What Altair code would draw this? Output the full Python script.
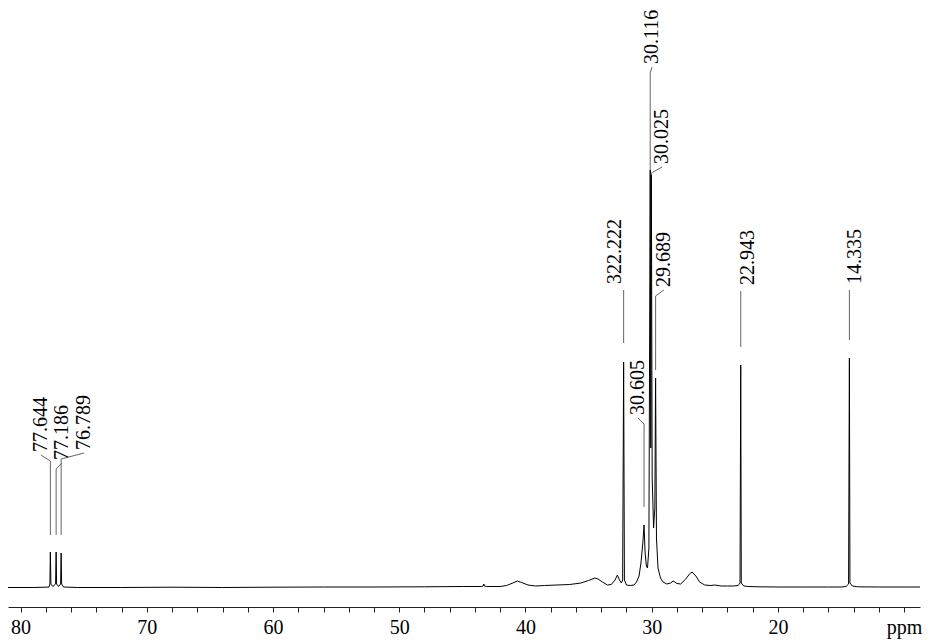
import altair as alt
import pandas as pd

# ---- spectrum trace (ppm, intensity in arbitrary units) ----
spec_ppm = [81.0, 79.0, 78.0, 77.75, 77.68, 77.644, 77.60, 77.45, 77.23, 77.186, 77.15, 77.0,
            76.83, 76.789, 76.75, 76.6, 75.5, 72.0, 68.0, 64.0, 60.0, 56.0, 52.0, 48.0, 45.0,
            43.5, 43.35, 43.3, 43.25, 43.1, 42.0, 41.5, 41.0, 40.65, 40.3, 39.8, 39.2, 38.5,
            37.5, 36.5, 35.6, 35.0, 34.5, 34.25, 33.9, 33.5, 33.2, 32.9, 32.72, 32.55, 32.4,
            32.3, 32.222, 32.16, 32.0, 31.7, 31.4, 31.2, 31.0, 30.85, 30.7, 30.605, 30.52,
            30.42, 30.33, 30.22, 30.116, 30.07, 30.025, 29.96, 29.85, 29.75, 29.689, 29.62,
            29.5, 29.3, 29.1, 28.8, 28.5, 28.3, 28.0, 27.7, 27.3, 27.0, 26.8, 26.5, 26.2,
            25.8, 25.3, 25.0, 24.5, 24.0, 23.5, 23.15, 23.0, 22.943, 22.9, 22.7, 22.3, 21.5,
            20.0, 18.0, 16.0, 15.0, 14.6, 14.4, 14.335, 14.29, 14.1, 13.7, 12.0, 10.0, 8.74]
spec_int = [0.5, 0.5, 0.8, 1, 4, 36, 4, 1.5, 4, 36, 4, 1.5,
            4, 35, 4, 1, 0.5, 0.5, 0.8, 0.5, 0.8, 1, 1, 1.2, 1.5,
            1.5, 2, 4, 2, 1.5, 1.5, 2.5, 5, 7, 5.5, 3, 2, 2.5,
            3, 3.5, 5, 7.5, 10, 9, 6, 3, 3.5, 8, 13, 8, 5,
            8, 226, 8, 3, 2.5, 3, 6, 12, 25, 45, 63, 35,
            22, 20, 40, 418, 140, 413, 110, 60, 80, 210, 50,
            20, 10, 6, 4, 5, 7, 4.5, 4, 9, 14, 16, 12, 6,
            3, 2.5, 3, 2, 2, 2, 2.5, 5, 223, 5, 2, 1.5, 1.2,
            1, 1, 1, 1, 1.5, 4, 230, 5, 2, 1.2, 1, 1, 1]

# ---- peak labels ----
peak_ppm = [77.644, 77.186, 76.789, 32.222, 30.605, 30.116, 30.025, 29.689, 22.943, 14.335]
peak_text = ["77.644", "77.186", "76.789", "322.222", "30.605", "30.116", "30.025",
             "29.689", "22.943", "14.335"]
label_ppm = [78.39, 76.73, 74.98, 32.91, 31.09, 29.98, 29.18, 29.03, 22.37, 13.89]
label_base = [136, 128, 138, 304, 173, 524, 424, 301, 303, 304]
leader_end = [53, 53, 53, 245, 81, 418, 413, 218, 241, 248]
kinked = [True, True, True, False, True, True, True, True, False, False]

# ---- axis ticks ----
tick_values = [80, 78, 76, 74, 72, 70, 68, 66, 64, 62, 60, 58, 56, 54, 52, 50, 48, 46, 44,
               42, 40, 38, 36, 34, 32, 30, 28, 26, 24, 22, 20, 18, 16, 14, 12, 10]

spec = pd.DataFrame({"ppm": spec_ppm, "I": spec_int})
labels_df = pd.DataFrame({"ppm": label_ppm, "I": label_base, "text": peak_text})

rows = []
for name, p, lx, b, e, k in zip(peak_text, peak_ppm, label_ppm, label_base, leader_end, kinked):
    pts = [(lx, b - 3), (p, b - 9), (p, e)] if k else [(p, b - 6), (p, e)]
    for j, (xx, yy) in enumerate(pts):
        rows.append({"peak": name, "seq": j, "ppm": xx, "I": yy})
leaders = pd.DataFrame(rows)

xs = alt.Scale(domain=[8.74, 81.0], reverse=True, nice=False, zero=False)
ys = alt.Scale(domain=[-19, 580], nice=False, zero=False)

xaxis = alt.Axis(
    values=tick_values, tickCount=100,
    labelExpr="datum.value == 10 ? 'ppm' : (datum.value % 10 == 0 ? datum.label : '')",
    title=None, grid=False, labelOverlap=False, tickSize=5, labelPadding=5,
    labelFont="Liberation Serif", labelFontSize=20, labelColor="black",
    domainColor="#222", tickColor="#222", labelFlush=False,
)

trace = alt.Chart(spec).mark_line(color="black", strokeWidth=1).encode(
    x=alt.X("ppm:Q", scale=xs, axis=xaxis),
    y=alt.Y("I:Q", scale=ys, axis=None),
)

lead = alt.Chart(leaders).mark_line(color="#555", strokeWidth=0.9).encode(
    x=alt.X("ppm:Q", scale=xs),
    y=alt.Y("I:Q", scale=ys),
    detail="peak:N",
    order="seq:O",
)

txt = alt.Chart(labels_df).mark_text(
    angle=270, align="left", baseline="middle",
    font="Liberation Serif", fontSize=20, color="black",
).encode(
    x=alt.X("ppm:Q", scale=xs),
    y=alt.Y("I:Q", scale=ys),
    text="text:N",
)

chart = alt.layer(trace, lead, txt).properties(
    width=912, height=599,
    autosize=alt.AutoSizeParams(type="none"),
    padding={"left": 0, "top": 0, "right": 3, "bottom": 36},
).configure_view(stroke=None)

chart.save("out.html", embed_options={"renderer": "svg", "actions": False})
